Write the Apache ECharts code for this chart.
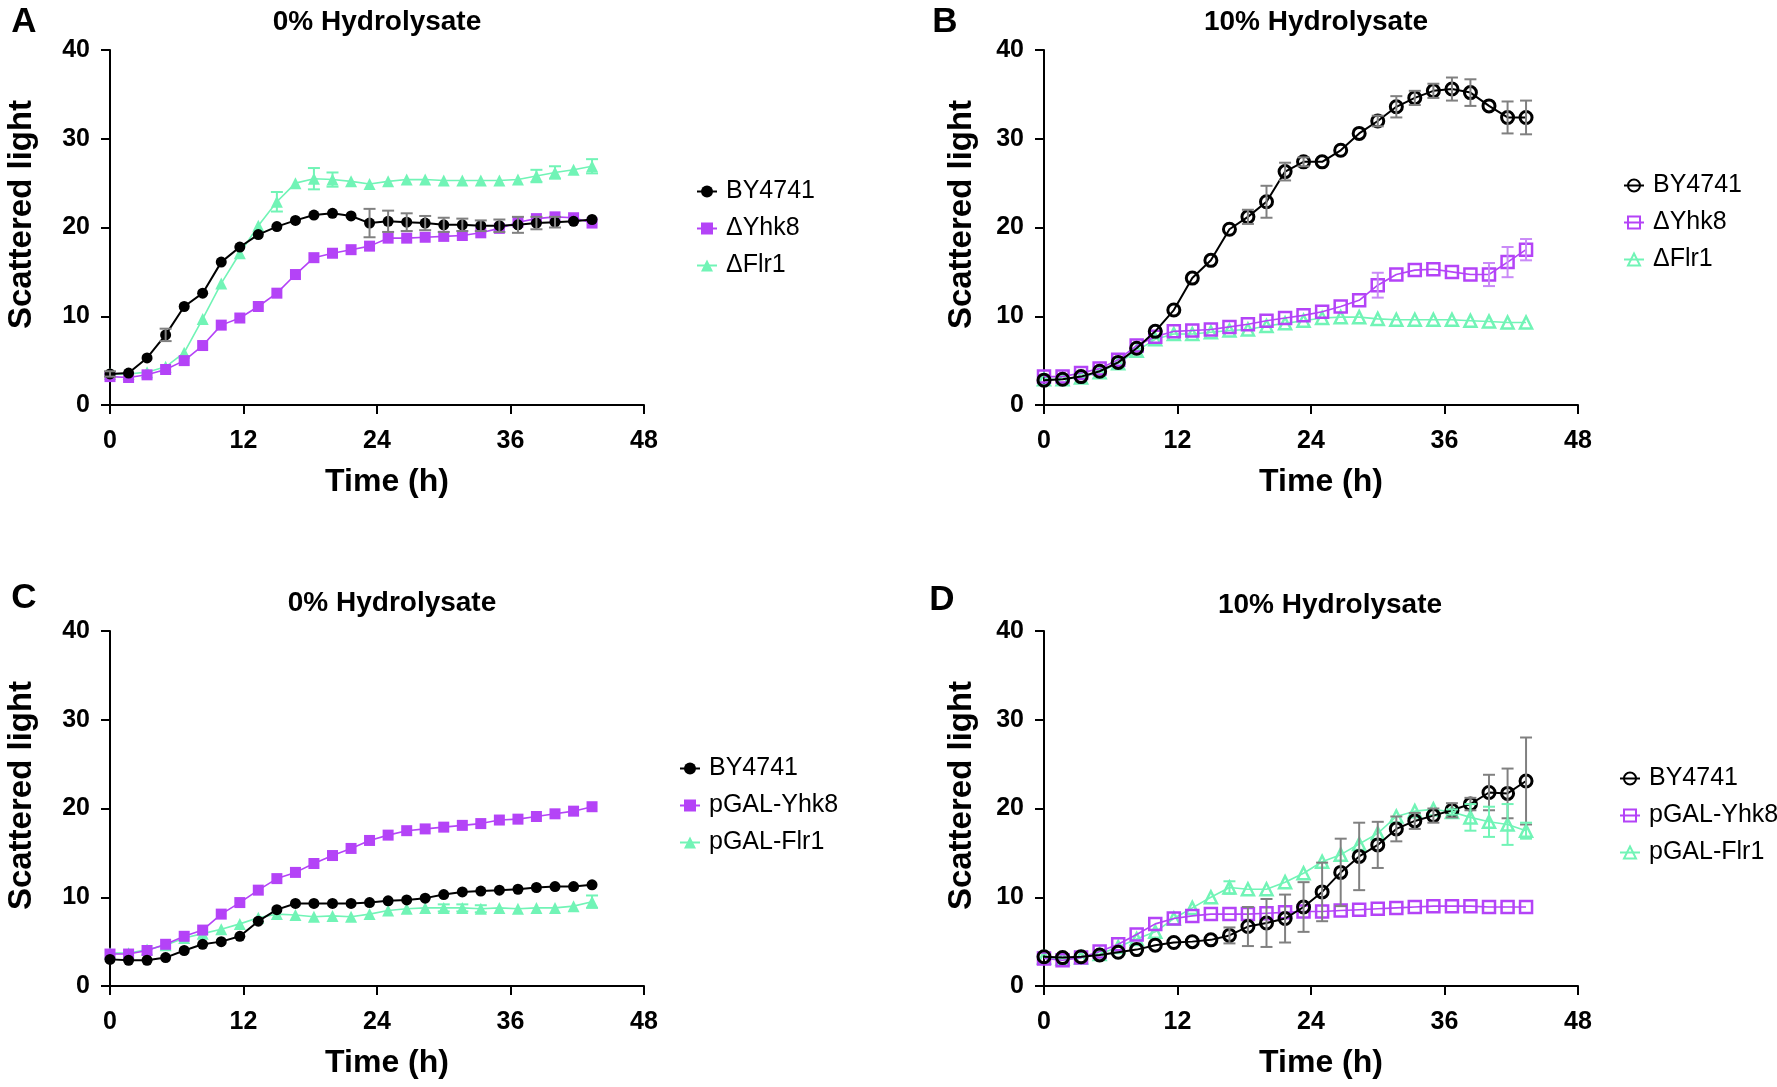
<!DOCTYPE html>
<html>
<head>
<meta charset="utf-8">
<title>Scattered light</title>
<script src="https://cdn.jsdelivr.net/npm/echarts@6/dist/echarts.min.js"></script>
<style>
  html, body { margin: 0; padding: 0; background: #fff; }
  #main { width: 1777px; height: 1087px; }
</style>
</head>
<body>
<div id="main"></div>
<script>
// sampling times (h)
var times = [0, 1.67, 3.33, 5, 6.67, 8.33, 10, 11.67, 13.33, 15, 16.67, 18.33, 20, 21.67, 23.33,
  25, 26.67, 28.33, 30, 31.67, 33.33, 35, 36.67, 38.33, 40, 41.67, 43.33];

// A - deletion strains, 0% hydrolysate
var aBy    = [3.5, 3.6, 5.3, 7.9, 11.1, 12.6, 16.1, 17.8, 19.2, 20.1, 20.8, 21.4, 21.6, 21.3, 20.5, 20.7, 20.6, 20.5, 20.3, 20.3, 20.2, 20.2, 20.3, 20.5, 20.6, 20.7, 20.9];
var aYhk8  = [3.2, 3.1, 3.4, 4.0, 5.0, 6.7, 9.0, 9.8, 11.1, 12.6, 14.7, 16.6, 17.1, 17.5, 17.9, 18.8, 18.8, 18.9, 19.0, 19.1, 19.4, 19.9, 20.6, 21.0, 21.2, 21.1, 20.5];
var aFlr1  = [3.5, 3.5, 3.7, 4.3, 5.9, 9.7, 13.7, 17.1, 20.2, 22.9, 25.0, 25.5, 25.4, 25.2, 24.9, 25.2, 25.4, 25.4, 25.3, 25.3, 25.3, 25.3, 25.4, 25.8, 26.2, 26.5, 26.9];
var aByErr   = [0.3, 0, 0, 0.7, 0, 0, 0, 0, 0, 0, 0, 0, 0, 0, 1.6, 1.2, 1.0, 0.8, 0.8, 0.7, 0.6, 0.7, 0.9, 0.7, 0.6, 0, 0];
var aYhk8Err = [0, 0, 0, 0, 0, 0, 0, 0, 0, 0, 0, 0, 0, 0, 0, 0, 0, 0, 0, 0, 0, 0, 0, 0, 0, 0, 0];
var aFlr1Err = [0, 0, 0, 0, 0, 0, 0, 0, 0, 1.1, 0, 1.2, 0.8, 0, 0, 0, 0, 0, 0, 0, 0, 0, 0, 0.7, 0.7, 0, 0.8];

// B - deletion strains, 10% hydrolysate
var bBy    = [2.8, 2.9, 3.2, 3.8, 4.8, 6.4, 8.3, 10.7, 14.3, 16.3, 19.8, 21.2, 22.9, 26.3, 27.4, 27.4, 28.7, 30.6, 32.0, 33.6, 34.6, 35.4, 35.6, 35.2, 33.7, 32.4, 32.4];
var bYhk8  = [3.2, 3.2, 3.6, 4.1, 5.1, 6.7, 7.7, 8.3, 8.4, 8.5, 8.8, 9.1, 9.5, 9.8, 10.1, 10.5, 11.1, 11.8, 13.5, 14.7, 15.2, 15.3, 15.0, 14.7, 14.7, 16.1, 17.5];
var bFlr1  = [2.9, 2.9, 3.1, 3.7, 4.7, 6.1, 7.4, 8.0, 8.0, 8.2, 8.4, 8.5, 8.9, 9.2, 9.5, 9.8, 9.9, 9.9, 9.7, 9.6, 9.6, 9.6, 9.6, 9.5, 9.4, 9.3, 9.3];
var bByErr   = [0, 0, 0, 0, 0, 0, 0, 0, 0, 0, 0, 0.8, 1.8, 1.0, 0.5, 0, 0, 0, 0.6, 1.2, 0.8, 0.8, 1.3, 1.5, 0, 1.8, 1.9];
var bYhk8Err = [0, 0, 0, 0, 0, 0, 0, 0, 0, 0, 0, 0, 0, 0, 0, 0, 0, 0, 1.4, 0, 0, 0, 0, 0, 1.3, 1.7, 1.2];
var bFlr1Err = [0, 0, 0, 0, 0, 0, 0, 0, 0, 0, 0, 0, 0, 0, 0, 0, 0, 0, 0, 0, 0, 0, 0, 0, 0, 0, 0];

// C - overexpression strains, 0% hydrolysate
var cBy    = [3.0, 2.9, 2.9, 3.2, 4.0, 4.7, 5.0, 5.6, 7.3, 8.6, 9.3, 9.3, 9.3, 9.3, 9.4, 9.6, 9.7, 9.9, 10.3, 10.6, 10.7, 10.8, 10.9, 11.1, 11.2, 11.2, 11.4];
var cYhk8  = [3.6, 3.6, 4.0, 4.7, 5.6, 6.3, 8.1, 9.4, 10.8, 12.1, 12.8, 13.8, 14.7, 15.5, 16.4, 17.0, 17.5, 17.7, 17.9, 18.1, 18.3, 18.7, 18.8, 19.1, 19.4, 19.7, 20.2];
var cFlr1  = [3.7, 3.7, 4.1, 4.6, 5.4, 5.9, 6.4, 7.0, 7.7, 8.1, 8.0, 7.8, 7.9, 7.8, 8.1, 8.5, 8.7, 8.8, 8.8, 8.8, 8.7, 8.8, 8.7, 8.8, 8.8, 9.0, 9.5];
var cByErr   = [0, 0, 0, 0, 0, 0, 0, 0, 0, 0, 0, 0, 0, 0, 0, 0, 0, 0, 0, 0, 0, 0, 0, 0, 0, 0, 0];
var cYhk8Err = [0, 0, 0, 0, 0, 0, 0, 0, 0, 0, 0, 0, 0, 0, 0, 0, 0, 0, 0, 0, 0, 0, 0, 0, 0, 0, 0];
var cFlr1Err = [0, 0, 0, 0, 0, 0, 0, 0, 0, 0, 0, 0, 0, 0, 0, 0, 0, 0, 0.4, 0.4, 0.4, 0, 0, 0, 0, 0, 0.7];

// D - overexpression strains, 10% hydrolysate
var dBy    = [3.3, 3.2, 3.3, 3.5, 3.8, 4.1, 4.6, 4.9, 5.0, 5.2, 5.7, 6.7, 7.1, 7.6, 8.9, 10.6, 12.8, 14.6, 15.9, 17.7, 18.6, 19.2, 19.8, 20.5, 21.8, 21.7, 23.1];
var dYhk8  = [3.1, 2.9, 3.2, 3.9, 4.7, 5.8, 7.0, 7.6, 7.9, 8.1, 8.1, 8.1, 8.2, 8.3, 8.4, 8.4, 8.5, 8.6, 8.7, 8.8, 8.9, 9.0, 9.0, 9.0, 8.9, 8.9, 8.9];
var dFlr1  = [3.2, 3.1, 3.2, 3.6, 4.4, 5.3, 6.1, 7.6, 8.8, 10.0, 11.1, 10.9, 10.9, 11.7, 12.7, 14.0, 14.8, 16.0, 17.2, 19.1, 19.7, 19.9, 19.6, 19.0, 18.5, 18.2, 17.5];
var dByErr   = [0, 0, 0, 0, 0, 0, 0, 0, 0, 0, 0.9, 2.2, 2.7, 2.7, 2.8, 3.3, 3.8, 3.8, 2.6, 1.4, 0.9, 0.8, 0.8, 0.7, 2.0, 2.8, 4.9];
var dYhk8Err = [0, 0, 0, 0, 0, 0, 0, 0, 0, 0, 0, 0, 0, 0, 0, 0, 0, 0, 0, 0, 0, 0, 0, 0, 0, 0, 0];
var dFlr1Err = [0, 0, 0, 0, 0, 0, 0, 0, 0, 0, 0.7, 0, 0, 0, 0, 0, 0, 0, 0, 0, 0, 0, 0.3, 1.5, 1.7, 2.3, 0.9];

var xTicks = [0, 12, 24, 36, 48];
var yTicks = [0, 10, 20, 30, 40];

var FONT = '"Liberation Sans", Arial, sans-serif';
var BLACK = '#000000', PURPLE = '#B443F7', GREEN = '#71F4B6';
var ERR_COLORS = ['#808080', '#C98AF7', GREEN];
var COLORS = [BLACK, PURPLE, GREEN];
var SYMBOLS = ['circle', 'rect', 'triangle'];

var panels = [
  { key: 'A', title: '0% Hydrolysate', left: 110, top: 50, hollow: false, yGap: 72,
    names: ['BY4741', 'ΔYhk8', 'ΔFlr1'], values: [aBy, aYhk8, aFlr1], errors: [aByErr, aYhk8Err, aFlr1Err],
    titlePos: [377, 22], letterPos: [24, 22], legendPos: [696, 179] },
  { key: 'B', title: '10% Hydrolysate', left: 1044, top: 50, hollow: true, yGap: 66,
    names: ['BY4741', 'ΔYhk8', 'ΔFlr1'], values: [bBy, bYhk8, bFlr1], errors: [bByErr, bYhk8Err, bFlr1Err],
    titlePos: [1316, 22], letterPos: [945, 22], legendPos: [1623, 173] },
  { key: 'C', title: '0% Hydrolysate', left: 110, top: 631, hollow: false, yGap: 72,
    names: ['BY4741', 'pGAL-Yhk8', 'pGAL-Flr1'], values: [cBy, cYhk8, cFlr1], errors: [cByErr, cYhk8Err, cFlr1Err],
    titlePos: [392, 603], letterPos: [24, 598], legendPos: [679, 756] },
  { key: 'D', title: '10% Hydrolysate', left: 1044, top: 631, hollow: true, yGap: 66,
    names: ['BY4741', 'pGAL-Yhk8', 'pGAL-Flr1'], values: [dBy, dYhk8, dFlr1], errors: [dByErr, dYhk8Err, dFlr1Err],
    titlePos: [1330, 605], letterPos: [942, 600], legendPos: [1619, 766] }
];

// error bars drawn with a custom series
function errorBars(color) {
  return function (params, api) {
    var hi = api.coord([api.value(0), api.value(2)]);
    var lo = api.coord([api.value(0), api.value(1)]);
    var w = 6;
    var st = { stroke: color, lineWidth: 2 };
    return {
      type: 'group',
      children: [
        { type: 'line', shape: { x1: hi[0], y1: hi[1], x2: lo[0], y2: lo[1] }, style: st },
        { type: 'line', shape: { x1: hi[0] - w, y1: hi[1], x2: hi[0] + w, y2: hi[1] }, style: st },
        { type: 'line', shape: { x1: lo[0] - w, y1: lo[1], x2: lo[0] + w, y2: lo[1] }, style: st }
      ]
    };
  };
}

var grids = [], xAxes = [], yAxes = [], series = [], legends = [], graphics = [];

panels.forEach(function (p, gi) {
  grids.push({ left: p.left, top: p.top, width: 534, height: 355 });

  xAxes.push({
    gridIndex: gi, type: 'value', min: 0, max: 48, interval: 12,
    name: 'Time (h)', nameLocation: 'middle', nameGap: 61,
    nameTextStyle: { fontFamily: FONT, fontSize: 32, fontWeight: 'bold', color: '#000', padding: [0, 0, 0, 20] },
    axisLine: { lineStyle: { color: '#000', width: 2 } },
    axisTick: { length: 9, lineStyle: { color: '#000', width: 2 } },
    axisLabel: { fontFamily: FONT, fontSize: 25, fontWeight: 'bold', color: '#000', margin: 24,
      showMinLabel: true, showMaxLabel: true,
      formatter: function (v) { return xTicks.indexOf(v) >= 0 ? String(v) : ''; } },
    splitLine: { show: false }
  });

  yAxes.push({
    gridIndex: gi, type: 'value', min: 0, max: 40, interval: 10,
    name: 'Scattered light', nameLocation: 'middle', nameGap: p.yGap,
    nameTextStyle: { fontFamily: FONT, fontSize: 33, fontWeight: 'bold', color: '#000', padding: [0, 0, 0, 26] },
    axisLine: { show: true, lineStyle: { color: '#000', width: 2 } },
    axisTick: { show: true, length: 9, lineStyle: { color: '#000', width: 2 } },
    axisLabel: { fontFamily: FONT, fontSize: 25, fontWeight: 'bold', color: '#000', margin: 20,
      formatter: function (v) { return yTicks.indexOf(v) >= 0 ? String(v) : ''; } },
    splitLine: { show: false }
  });

  var legendNames = [];
  // draw green first, purple next, black on top
  var zOrder = [4, 3, 2];
  p.names.forEach(function (nm, si) {
    var id = p.key + ':' + nm;
    legendNames.push(id);
    var col = COLORS[si];
    var itemStyle = p.hollow
      ? { color: 'rgba(255,255,255,0)', borderColor: col, borderWidth: si === 0 ? 3 : 2.5 }
      : { color: col, borderWidth: 0 };
    series.push({
      name: id, type: 'line', xAxisIndex: gi, yAxisIndex: gi,
      data: times.map(function (t, i) { return [t, p.values[si][i]]; }),
      symbol: SYMBOLS[si],
      symbolSize: p.hollow ? 12 : (si === 2 ? 12 : 11),
      showAllSymbol: true,
      itemStyle: itemStyle,
      lineStyle: { color: col, width: si === 0 ? 2 : 1.6 },
      z: zOrder[si],
      animation: false,
      emphasis: { disabled: true }
    });
    var errData = [];
    times.forEach(function (t, i) {
      var e = p.errors[si][i];
      if (e > 0) errData.push([t, p.values[si][i] - e, p.values[si][i] + e]);
    });
    if (errData.length) {
      series.push({
        name: id + ' err', type: 'custom', xAxisIndex: gi, yAxisIndex: gi,
        renderItem: errorBars(ERR_COLORS[si]),
        data: errData, z: 6, silent: true, animation: false
      });
    }
  });

  legends.push({
    data: legendNames, orient: 'vertical', left: p.legendPos[0], top: p.legendPos[1],
    padding: 0, itemWidth: 20, itemHeight: 15, itemGap: 12, selectedMode: false,
    formatter: function (name) { return name.split(':')[1]; },
    textStyle: { fontFamily: FONT, fontSize: 25, color: '#000', padding: [0, 0, 0, 4] }
  });

  graphics.push({
    type: 'text', x: p.titlePos[0], y: p.titlePos[1],
    style: { text: p.title, font: 'bold 28px ' + FONT, fill: '#000', align: 'center', verticalAlign: 'middle' }
  });
  graphics.push({
    type: 'text', x: p.letterPos[0], y: p.letterPos[1],
    style: { text: p.key, font: 'bold 35px ' + FONT, fill: '#000', align: 'center', verticalAlign: 'middle' }
  });
});

var chart = echarts.init(document.getElementById('main'));
chart.setOption({
  backgroundColor: '#fff',
  animation: false,
  grid: grids,
  xAxis: xAxes,
  yAxis: yAxes,
  legend: legends,
  series: series,
  graphic: graphics
});
window.onresize = function () {
  chart.resize();
};
</script>
</body>
</html>
